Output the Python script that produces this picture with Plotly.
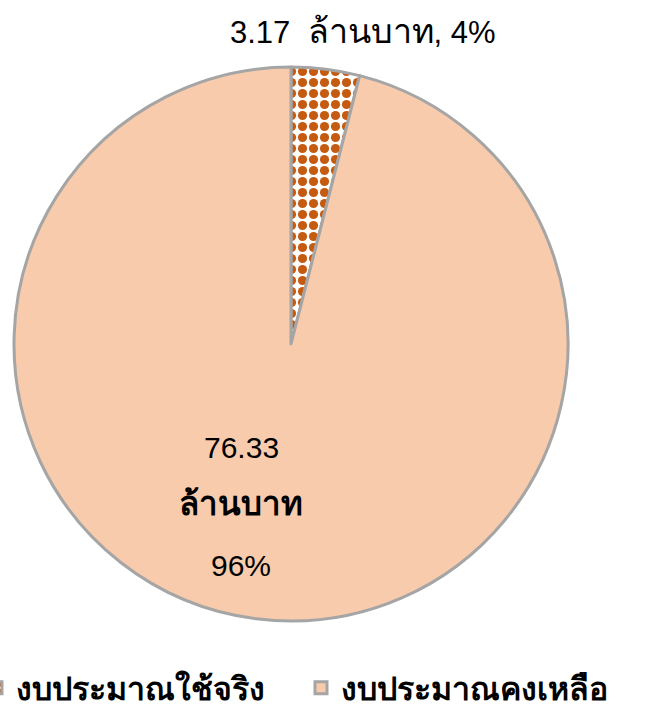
import plotly.graph_objects as go

labels = ["งบประมาณใช้จริง", "งบประมาณคงเหลือ"]
values = [3.17, 76.33]
percents = ["4%", "96%"]
unit = "ล้านบาท"
colors = ["#C55A11", "#F8CBAD"]

W, H = 657, 716
MB = 60  # bottom margin holding the legend
cx, cy, r = 291, 344, 277
PH = H - MB


def px(x):
    return x / W


def py(y):
    return (PH - y) / PH


fig = go.Figure()
fig.add_trace(go.Pie(
    labels=labels,
    values=values,
    sort=False,
    direction="clockwise",
    rotation=0,
    textinfo="none",
    hoverinfo="label+value+percent",
    marker=dict(
        colors=["#FFFFFF", colors[1]],
        line=dict(color="#A5A5A5", width=3),
        pattern=dict(
            shape=[".", ""],
            fgcolor=colors[0],
            bgcolor="#FFFFFF",
            fgopacity=1,
            size=11,
            solidity=0.55,
            fillmode="overlay",
        ),
    ),
    domain=dict(x=[px(cx - r), px(cx + r)], y=[py(cy + r), py(cy - r)]),
))

font_main = "Liberation Sans, Arial, sans-serif"


def thai(s, sz):
    return f'<span style="font-size:{sz}px">{s}</span>'


def label(x, y, text, size):
    fig.add_annotation(
        x=px(x), y=py(y), xref="paper", yref="paper",
        xanchor="center", yanchor="middle",
        text=text, showarrow=False,
        font=dict(size=size, color="#000000", family=font_main),
    )


label(363, 31, f"{values[0]:.2f}  {thai(unit, 34)}, {percents[0]}", 31)
label(241, 447, f"{values[1]:.2f}", 30)
label(241, 503, f"<b>{unit}</b>", 33)
label(241, 565, percents[1], 30)

fig.update_layout(
    width=W, height=H,
    margin=dict(l=0, r=0, t=0, b=MB, autoexpand=False),
    paper_bgcolor="#FFFFFF",
    plot_bgcolor="#FFFFFF",
    showlegend=True,
    legend=dict(
        orientation="h",
        x=px(-24), xanchor="left",
        y=py(688), yanchor="middle",
        font=dict(size=32, color="#000000", family=font_main, weight="bold"),
        entrywidthmode="pixels",
        entrywidth=280,
        itemwidth=30,
    ),
)

fig.write_html("out.html", config={"displayModeBar": False},
               post_script="document.body.style.margin='0';")
